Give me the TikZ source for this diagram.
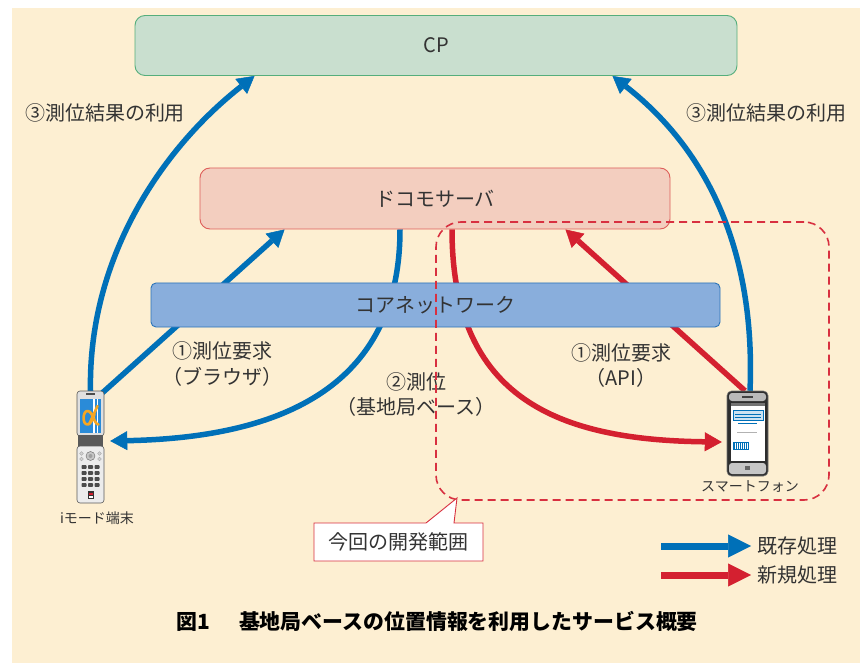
\documentclass[tikz,border=0pt]{standalone}
\usepackage{fontspec}
\setmainfont{Noto Sans CJK JP}
\usetikzlibrary{arrows.meta}

\definecolor{cream}{HTML}{FDEFD2}
\definecolor{cpfill}{HTML}{C9DFCF}
\definecolor{cpedge}{HTML}{55AE7C}
\definecolor{srvfill}{HTML}{F3CEBF}
\definecolor{srvedge}{HTML}{DE5E5A}
\definecolor{corefill}{HTML}{89AEDC}
\definecolor{coreedge}{HTML}{2C74B8}
\definecolor{flowblue}{HTML}{0070B8}
\definecolor{flowred}{HTML}{D42030}
\definecolor{dashred}{HTML}{D83040}
\definecolor{ink}{HTML}{333333}
\definecolor{scrblue}{HTML}{2A8BD8}
\definecolor{logoorange}{HTML}{F5A623}

\pgfdeclarelayer{bg}
\pgfdeclarelayer{flows}
\pgfsetlayers{bg,flows,main}

\tikzset{
  box/.style={rounded corners=10pt, line width=0.9pt, inner sep=0pt,
    text=ink, font=\fontsize{20}{24}\selectfont},
  lbl/.style={inner sep=0pt, text=ink, align=center,
    font=\fontsize{20}{25}\selectfont},
  small/.style={inner sep=0pt, text=ink, font=\fontsize{14}{16}\selectfont},
  flow/.style={line width=5.5pt,
    -{Triangle[length=17pt,width=19pt,line width=0.5pt]}},
  legarrow/.style={line width=7pt,
    -{Triangle[length=23pt,width=23pt,line width=0.5pt]}},
}

\begin{document}
\begin{tikzpicture}[x=1pt,y=-1pt]
\useasboundingbox (0,0) rectangle (860,663);
\begin{pgfonlayer}{bg}
  \fill[white] (0,0) rectangle (860,663);
  \fill[cream] (12,8) rectangle (860,663);
\end{pgfonlayer}

% ---- system boxes
\node[box, fill=cpfill, draw=cpedge, minimum width=602pt, minimum height=60pt]
  (cp) at (436,45.5) {CP};
\node[box, fill=srvfill, draw=srvedge, minimum width=470pt, minimum height=61pt]
  (server) at (435,198.5) {ドコモサーバ};
\node[box, fill=corefill, draw=coreedge, rounded corners=5pt,
  minimum width=569pt, minimum height=44pt]
  (core) at (435.5,305) {コアネットワーク};

% ---- terminals (anchor frames)
\node[minimum width=27pt, minimum height=112pt, inner sep=0pt] (imode) at (90.5,447) {};
\node[minimum width=41pt, minimum height=85pt, inner sep=0pt] (smart) at (747.5,433.5) {};

% flip phone: upper half
\draw[fill=gray!25, draw=gray!70!black, rounded corners=3pt, line width=0.6pt]
  (77,391) rectangle (104,436);
\fill[black!70] (86,393.3) rectangle (95,395);
\fill[scrblue] (80,399) rectangle (101,433);
\fill[white] (93,399) rectangle (94.6,433);
\fill[white] (96.6,399) rectangle (98.2,433);
% orange logo mark on the screen
\draw[logoorange, line width=2.6pt, line cap=round, line join=round]
  (97.5,406) -- (89,424.5)
  (98.5,424.5) .. controls (94,424.5) and (93,411) .. (87.5,411)
  .. controls (82.5,411) and (82,424.5) .. (87.5,424.5)
  .. controls (91,424.5) and (93,418) .. (94.5,414);
% hinge
\fill[black!65] (78,435) rectangle (103,447);
% lower half
\draw[fill=gray!15, draw=gray!70!black, rounded corners=3pt, line width=0.6pt]
  (77,446) rectangle (104,503);
\draw[fill=gray!45, draw=gray!80!black, line width=0.4pt] (90.5,456) circle (4.5);
\fill[gray!75] (90.5,456) circle (2);
\foreach \sx in {81.5,99.5} \draw[fill=gray!35, draw=gray!70, line width=0.3pt] (\sx,453.5) circle (1.8);
\foreach \sx in {81.5,99.5} \draw[fill=gray!35, draw=gray!70, line width=0.3pt] (\sx,459) circle (1.8);
\foreach \r in {0,...,3}
  \foreach \c in {0,...,2}
    \fill[black!70, rounded corners=0.8pt]
      ({81.5+\c*6.5},{465+\r*6}) rectangle ({86.5+\c*6.5},{468.8+\r*6});
\fill[black!80] (87.5,491) rectangle (93.5,499);
\fill[flowred] (88.5,492.5) rectangle (92.5,494.5);
\fill[white] (88.5,495.5) rectangle (92.5,497.5);

% smartphone
\draw[fill=black!82, draw=black!55, rounded corners=4.5pt, line width=0.6pt]
  (727,391) rectangle (768,476);
\fill[gray!55, rounded corners=3pt] (729,393) rectangle (766,401);
\fill[black!75] (742,395.5) rectangle (753,397.5);
\fill[gray!45, rounded corners=3pt] (729,463) rectangle (766,474);
\fill[black!60] (745,466) rectangle (750,470);
\fill[white] (731,403) rectangle (765,461);
\fill[black!55] (731,403) rectangle (765,405.5);
\draw[fill=flowblue!20, draw=flowblue, line width=0.6pt] (733,410) rectangle (763,420);
\draw[flowblue, line width=0.5pt] (735,414) -- (761,414) (735,417) -- (761,417);
\draw[flowblue, line width=1.2pt] (738,423.5) -- (757,423.5);
\draw[gray!60, line width=1pt] (737,432) -- (757,432);
\fill[flowblue] (733,442) rectangle (749,450);
\foreach \bx in {735,737,...,747} \draw[white, line width=0.5pt] (\bx,443) -- (\bx,449);

% ---- labels
\node[lbl] (use1) at (105,113) {③測位結果の利用};
\node[lbl] (use2) at (766,113) {③測位結果の利用};
\node[lbl] (reqb) at (222,364) {①測位要求\\（ブラウザ）};
\node[lbl] (pos)  at (416,394) {②測位\\（基地局ベース）};
\node[lbl] (reqa) at (621,365.5) {①測位要求\\（API）};
\node[small] (imodelbl) at (97,518) {iモード端末};
\node[small] (smartlbl) at (750,487) {スマートフォン};

% ---- message flows (behind the boxes)
\begin{pgfonlayer}{flows}
  \draw[flow, flowblue] (imode.north)
    .. controls (88,260) and (160,150) .. ([xshift=120pt]cp.south west);
  \draw[flow, flowblue] ([xshift=2.5pt]smart.north)
    .. controls (755,270) and (720,160) .. ([xshift=-125pt]cp.south east);
  \draw[flow, flowblue] ([xshift=-4pt,yshift=-4pt]imode.north east)
    -- ([xshift=85pt]server.south west);
  \draw[flow, flowblue] ([xshift=-35pt]server.south)
    .. controls (400,400) and (260,438) .. ([xshift=6pt,yshift=6pt]imode.east);
  \draw[flow, flowred] ([xshift=17pt]server.south)
    .. controls (452,400) and (560,440) .. ([xshift=-5pt,yshift=-8.5pt]smart.west);
  \draw[flow, flowred] ([xshift=-2.5pt]smart.north)
    -- ([xshift=-105pt]server.south east);
\end{pgfonlayer}

% ---- development scope
\node[draw=dashred, dashed, dash pattern=on 8pt off 5pt, line width=1.6pt,
  rounded corners=25pt, minimum width=393pt, minimum height=278pt, inner sep=0pt]
  (devarea) at (632.5,361) {};
\draw[fill=white, draw=dashred, line width=0.9pt]
  (314,523) -- (426,523) -- (457,498) -- (454,523) -- (483,523)
  -- (483,561) -- (314,561) -- cycle;
\node[lbl] (scope) at (398.5,542) {今回の開発範囲};

% ---- legend
\node[lbl, anchor=west] (legold) at (757,546) {既存処理};
\node[lbl, anchor=west] (legnew) at (757,575) {新規処理};
\coordinate (legoa) at (661,546);
\coordinate (legna) at (661,575);
\draw[legarrow, flowblue] (legoa) -- ([xshift=-6pt]legold.west);
\draw[legarrow, flowred] (legna) -- ([xshift=-6pt]legnew.west);

% ---- caption
\node[inner sep=0pt, font=\bfseries\fontsize{20.9}{24}\selectfont] (caption)
  at (437,621) {図1\hspace{1.4em}基地局ベースの位置情報を利用したサービス概要};
\end{tikzpicture}
\end{document}
